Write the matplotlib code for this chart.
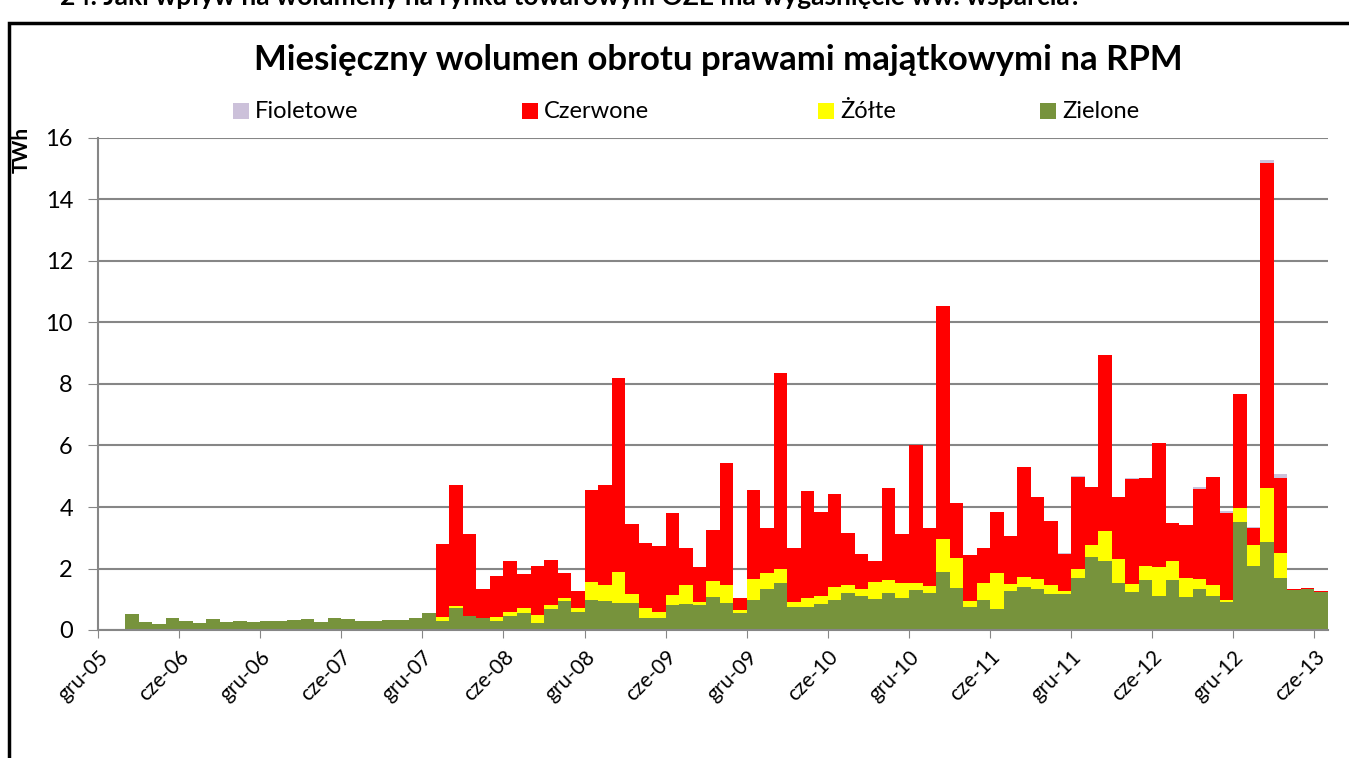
import matplotlib.pyplot as plt
from matplotlib.patches import Rectangle
from matplotlib.transforms import ScaledTranslation
import numpy as np

# Wolumen miesięczny (TWh), od gru-05 do cze-13, wartości skumulowane odczytane z wykresu
# poziom "góra zielonych", "góra żółtych", "góra czerwonych", "góra fioletowych"
zielone = [0.02, 0.03, 0.52, 0.25, 0.18, 0.39, 0.29, 0.24, 0.36, 0.26,
           0.30, 0.27, 0.28, 0.30, 0.34, 0.36, 0.26, 0.39, 0.35, 0.28,
           0.28, 0.31, 0.32, 0.38, 0.54, 0.30, 0.70, 0.46, 0.38, 0.30,
           0.47, 0.54, 0.24, 0.68, 0.94, 0.60, 0.98, 0.94, 0.87, 0.87,
           0.40, 0.38, 0.81, 0.83, 0.81, 1.08, 0.89, 0.56, 0.98, 1.32,
           1.52, 0.76, 0.74, 0.83, 0.98, 1.19, 1.12, 1.00, 1.19, 1.05,
           1.30, 1.21, 1.88, 1.38, 0.76, 0.98, 0.69, 1.28, 1.41, 1.32,
           1.17, 1.17, 1.70, 2.38, 2.25, 1.52, 1.25, 1.63, 1.12, 1.63,
           1.06, 1.34, 1.12, 0.91, 3.52, 2.08, 2.87, 1.70, 1.30, 1.34,
           1.25]
zolte_top = [0.02, 0.03, 0.52, 0.25, 0.18, 0.39, 0.29, 0.24, 0.36, 0.26,
             0.30, 0.27, 0.28, 0.30, 0.34, 0.36, 0.26, 0.39, 0.35, 0.28,
             0.28, 0.31, 0.32, 0.38, 0.54, 0.41, 0.79, 0.47, 0.39, 0.43,
             0.57, 0.72, 0.50, 0.81, 1.04, 0.73, 1.55, 1.47, 1.90, 1.17,
             0.73, 0.60, 1.13, 1.46, 0.92, 1.60, 1.47, 0.64, 1.67, 1.86,
             1.98, 0.92, 1.03, 1.12, 1.41, 1.45, 1.34, 1.56, 1.63, 1.52,
             1.54, 1.44, 2.96, 2.33, 0.95, 1.54, 1.84, 1.50, 1.73, 1.66,
             1.46, 1.28, 1.97, 2.78, 3.22, 2.30, 1.50, 2.09, 2.06, 2.24,
             1.69, 1.65, 1.45, 0.98, 3.98, 2.78, 4.61, 2.51, 1.30, 1.34,
             1.25]
czerwone_top = [0.02, 0.03, 0.52, 0.25, 0.18, 0.39, 0.29, 0.24, 0.36, 0.26,
                0.30, 0.27, 0.28, 0.30, 0.34, 0.36, 0.26, 0.39, 0.35, 0.28,
                0.28, 0.31, 0.32, 0.38, 0.56, 2.79, 4.72, 3.12, 1.32, 1.76,
                2.25, 1.82, 2.08, 2.29, 1.84, 1.27, 4.55, 4.72, 8.20, 3.44,
                2.83, 2.73, 3.82, 2.68, 2.06, 3.26, 5.43, 1.03, 4.55, 3.31,
                8.35, 2.67, 4.52, 3.85, 4.41, 3.14, 2.47, 2.24, 4.62, 3.12,
                6.01, 3.31, 10.53, 4.14, 2.44, 2.67, 3.85, 3.07, 5.29, 4.34,
                3.54, 2.46, 4.96, 4.66, 8.94, 4.34, 4.91, 4.95, 6.07, 3.47,
                3.41, 4.57, 4.99, 3.82, 7.67, 3.31, 15.18, 4.93, 1.32, 1.38,
                1.27]
fioletowe_top = [0.02, 0.03, 0.52, 0.25, 0.18, 0.39, 0.29, 0.24, 0.36, 0.26,
                 0.30, 0.27, 0.28, 0.30, 0.34, 0.36, 0.26, 0.39, 0.35, 0.28,
                 0.28, 0.31, 0.32, 0.38, 0.56, 2.79, 4.72, 3.12, 1.32, 1.76,
                 2.25, 1.82, 2.08, 2.29, 1.84, 1.27, 4.55, 4.72, 8.20, 3.44,
                 2.83, 2.73, 3.82, 2.68, 2.06, 3.26, 5.43, 1.03, 4.55, 3.31,
                 8.35, 2.67, 4.52, 3.85, 4.41, 3.14, 2.47, 2.24, 4.62, 3.12,
                 6.01, 3.31, 10.53, 4.14, 2.44, 2.67, 3.85, 3.07, 5.29, 4.34,
                 3.54, 2.51, 5.01, 4.66, 8.94, 4.34, 4.95, 4.95, 6.07, 3.47,
                 3.41, 4.66, 4.99, 3.88, 7.67, 3.36, 15.28, 5.07, 1.32, 1.38,
                 1.27]

etykiety = ['gru-05', 'cze-06', 'gru-06', 'cze-07', 'gru-07', 'cze-08', 'gru-08', 'cze-09',
            'gru-09', 'cze-10', 'gru-10', 'cze-11', 'gru-11', 'cze-12', 'gru-12', 'cze-13']
serie = ['Fioletowe', 'Czerwone', 'Żółte', 'Zielone']
kolory = ['#CCC1DA', '#FF0000', '#FFFF00', '#77933C']

plt.rcParams['font.family'] = ['Lato', 'DejaVu Sans']

zielone = np.array(zielone)
zolte = np.array(zolte_top) - zielone
czerwone = np.array(czerwone_top) - np.array(zolte_top)
fioletowe = np.array(fioletowe_top) - np.array(czerwone_top)
x = np.arange(len(zielone))

fig = plt.figure(figsize=(13.49, 7.58), dpi=100)
ax = fig.add_axes([98 / 1349, 1 - 630 / 758, 1230 / 1349, 492 / 758])

ax.bar(x, zielone, width=1.0, align='edge', color=kolory[3], linewidth=0)
ax.bar(x, zolte, width=1.0, align='edge', bottom=zielone, color=kolory[2], linewidth=0)
ax.bar(x, czerwone, width=1.0, align='edge', bottom=zielone + zolte, color=kolory[1], linewidth=0)
ax.bar(x, fioletowe, width=1.0, align='edge', bottom=zielone + zolte + czerwone,
       color=kolory[0], linewidth=0)

ax.set_xlim(0, len(x))
ax.set_ylim(0, 16)
ax.set_yticks(range(0, 17, 2))
ax.set_xticks(range(0, len(x), 6))
ax.set_xticklabels(etykiety, rotation=45, ha='right', rotation_mode='anchor', fontsize=15)
przesun = ScaledTranslation(8 / 100, 0, fig.dpi_scale_trans)
for lab in ax.get_xticklabels():
    lab.set_transform(lab.get_transform() + przesun)
ax.tick_params(axis='y', labelsize=17, length=7, color='#868686', pad=11)
ax.tick_params(axis='x', length=6, color='#868686', pad=6)
ax.yaxis.grid(True, color='#868686', linewidth=1.5)
ax.set_axisbelow(True)
for s in ['top', 'right']:
    ax.spines[s].set_visible(False)
for s in ['left', 'bottom']:
    ax.spines[s].set_color('#868686')
    ax.spines[s].set_linewidth(1.5)

# podpis osi Y (bez labelpad - ustawiony ręcznie)
fig.text(22 / 1349, 1 - 150 / 758, 'TWh', rotation=90, ha='center', va='center',
         fontsize=15, fontweight='bold')

fig.text(718 / 1349, 1 - 60 / 758, 'Miesięczny wolumen obrotu prawami majątkowymi na RPM',
         ha='center', va='center', fontsize=25, fontweight='bold')

# legenda w jednym wierszu, jak w Excelu
legenda_x = [233, 522, 818, 1040]
for nazwa, kolor, lx in zip(serie, kolory, legenda_x):
    fig.patches.append(Rectangle((lx / 1349, 1 - 119 / 758), 16 / 1349, 16 / 758,
                                 transform=fig.transFigure, facecolor=kolor, edgecolor='none'))
    fig.text((lx + 22) / 1349, 1 - 111 / 758, nazwa, ha='left', va='center', fontsize=17)

# ramka wykresu
fig.patches.append(Rectangle((9 / 1349, -0.05), 1.2, 1 - 23 / 758 + 0.05, transform=fig.transFigure,
                             fill=False, edgecolor='black', linewidth=2.5))
# nagłówek pytania, ucięty u góry tak jak w oryginale
fig.text(60 / 1349, 1 + 3 / 758, '24. Jaki wpływ na wolumeny na rynku towarowym OZE ma wygaśnięcie ww. wsparcia?',
         ha='left', va='center', fontsize=19, fontweight='bold')

fig.savefig('out.png', dpi=100)
